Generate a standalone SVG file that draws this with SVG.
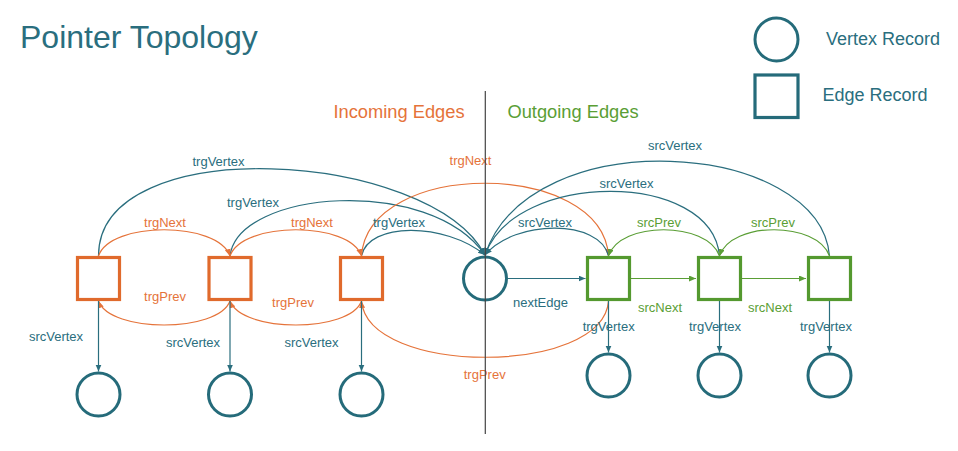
<svg xmlns="http://www.w3.org/2000/svg" width="958" height="451" viewBox="0 0 958 451">
  <style>
    text { font-family: "Liberation Sans", Arial, sans-serif; }
    .title { font-size: 32px; fill: #2a6e7e; }
    .legend { font-size: 18px; fill: #2a6e7e; }
    .head { font-size: 18.3px; text-anchor: middle; }
    .lbl { font-size: 13px; text-anchor: middle; }
    .t { fill: #2a6e7e; }
    .o { fill: #e5733a; }
    .g { fill: #5a9e35; }
    .vertex { fill: #ffffff; stroke: #256b7a; stroke-width: 3; }
    .edgeIn { fill: #ffffff; stroke: #e06a2c; stroke-width: 3.2; }
    .edgeOut { fill: #ffffff; stroke: #54992f; stroke-width: 3.2; }
    .edgeLegend { fill: #ffffff; stroke: #256b7a; stroke-width: 3.2; }
    .ct { fill: none; stroke: #2a6e7e; stroke-width: 1.2; marker-end: url(#arrT); }
    .co { fill: none; stroke: #e5733a; stroke-width: 1.2; marker-end: url(#arrO); }
    .cg { fill: none; stroke: #5a9e35; stroke-width: 1.2; marker-end: url(#arrG); }
    .sep { stroke: #444444; stroke-width: 1.2; }
  </style>
  <defs>
    <marker id="arrT" markerUnits="userSpaceOnUse" markerWidth="8" markerHeight="7" refX="7" refY="3" orient="auto">
      <path d="M0,0 L7,3 L0,6 z" fill="#2a6e7e"/>
    </marker>
    <marker id="arrO" markerUnits="userSpaceOnUse" markerWidth="8" markerHeight="7" refX="7" refY="3" orient="auto">
      <path d="M0,0 L7,3 L0,6 z" fill="#e5733a"/>
    </marker>
    <marker id="arrG" markerUnits="userSpaceOnUse" markerWidth="8" markerHeight="7" refX="7" refY="3" orient="auto">
      <path d="M0,0 L7,3 L0,6 z" fill="#5a9e35"/>
    </marker>
  </defs>

  <rect width="958" height="451" fill="#ffffff"/>

  <!-- title and legend -->
  <text class="title" x="20" y="48.3">Pointer Topology</text>
  <g id="legend-vertex">
    <circle class="vertex" cx="776.5" cy="39.5" r="21.5"/>
    <text class="legend" x="826" y="45">Vertex Record</text>
  </g>
  <g id="legend-edge">
    <rect class="edgeLegend" x="755" y="75" width="43" height="42.5"/>
    <text class="legend" x="822.5" y="100.7">Edge Record</text>
  </g>

  <text class="head o" x="399" y="118.3">Incoming Edges</text>
  <text class="head g" x="573" y="118.3">Outgoing Edges</text>

  <!-- connectors -->
  <g id="connectors">
    <!-- incoming edges: target vertex pointers -->
    <path class="ct" d="M98.5,256 C98.5,130 430,150 485,255"/>
    <path class="ct" d="M230,256 C238,190 430,175 485,255"/>
    <path class="ct" d="M361.5,256 C368,222 445,222 485,255"/>
    <!-- incoming edges: trgNext chain -->
    <path class="co" d="M98.5,256 C110,221 218,221 230,256"/>
    <path class="co" d="M230,256 C242,221 350,221 361.5,256"/>
    <path class="co" d="M361.5,256 C368,159 602,159 608.5,256"/>
    <!-- incoming edges: trgPrev chain -->
    <path class="co" d="M230,301 C218,333 110,333 98.5,301"/>
    <path class="co" d="M361.5,301 C350,333 242,333 230,301"/>
    <path class="co" d="M608.5,301 C603,376 368,376 361.5,301"/>
    <!-- outgoing edges: source vertex pointers -->
    <path class="ct" d="M608.5,256 C600,219 515,219 485,255"/>
    <path class="ct" d="M719.5,256 C712,170 515,170 485,255"/>
    <path class="ct" d="M829.5,256 C820,140 530,120 485,255"/>
    <!-- outgoing edges: srcPrev chain -->
    <path class="cg" d="M719.5,256 C707,221 620,221 608.5,256"/>
    <path class="cg" d="M829.5,256 C817,221 731,221 719.5,256"/>
    <!-- outgoing edges: srcNext chain -->
    <path class="cg" d="M631,278.5 L696,278.5"/>
    <path class="cg" d="M742,278.5 L806,278.5"/>
    <!-- vertex to first outgoing edge -->
    <path class="ct" d="M507,278.5 L585.5,278.5"/>
    <!-- source vertices of incoming edges -->
    <path class="ct" d="M98.5,301 L98.5,371.5"/>
    <path class="ct" d="M230,301 L230,371.5"/>
    <path class="ct" d="M361.5,301 L361.5,371.5"/>
    <!-- target vertices of outgoing edges -->
    <path class="ct" d="M608.5,301 L608.5,352.5"/>
    <path class="ct" d="M719.5,301 L719.5,352.5"/>
    <path class="ct" d="M829.5,301 L829.5,352.5"/>

    <!-- connector labels -->
    <text class="lbl t" x="218.5" y="166">trgVertex</text>
    <text class="lbl t" x="253" y="206.7">trgVertex</text>
    <text class="lbl t" x="399" y="227.3">trgVertex</text>
    <text class="lbl o" x="165" y="227.3">trgNext</text>
    <text class="lbl o" x="312" y="227.3">trgNext</text>
    <text class="lbl o" x="470.5" y="165">trgNext</text>
    <text class="lbl o" x="165" y="300.7">trgPrev</text>
    <text class="lbl o" x="293" y="307.3">trgPrev</text>
    <text class="lbl o" x="484.7" y="379.3">trgPrev</text>
    <text class="lbl t" x="675" y="150">srcVertex</text>
    <text class="lbl t" x="626.5" y="188.3">srcVertex</text>
    <text class="lbl t" x="545" y="226.7">srcVertex</text>
    <text class="lbl g" x="659" y="226.7">srcPrev</text>
    <text class="lbl g" x="773" y="226.7">srcPrev</text>
    <text class="lbl g" x="660" y="311.7">srcNext</text>
    <text class="lbl g" x="770" y="311.7">srcNext</text>
    <text class="lbl t" x="540.5" y="306.7">nextEdge</text>
    <text class="lbl t" x="56" y="340.7">srcVertex</text>
    <text class="lbl t" x="193" y="346.7">srcVertex</text>
    <text class="lbl t" x="311.5" y="346.7">srcVertex</text>
    <text class="lbl t" x="608.7" y="330.7">trgVertex</text>
    <text class="lbl t" x="715" y="330.7">trgVertex</text>
    <text class="lbl t" x="826" y="330.7">trgVertex</text>
  </g>

  <!-- incoming edge records -->
  <g id="in-edge-1"><rect class="edgeIn" x="77.5" y="257.5" width="42" height="42"/></g>
  <g id="in-edge-2"><rect class="edgeIn" x="209" y="257.5" width="42" height="42"/></g>
  <g id="in-edge-3"><rect class="edgeIn" x="340.5" y="257.5" width="42" height="42"/></g>

  <!-- central vertex -->
  <g id="vertex-center"><circle class="vertex" cx="485" cy="278.5" r="21.5"/></g>

  <!-- outgoing edge records -->
  <g id="out-edge-1"><rect class="edgeOut" x="587.5" y="257.5" width="42" height="42"/></g>
  <g id="out-edge-2"><rect class="edgeOut" x="698.5" y="257.5" width="42" height="42"/></g>
  <g id="out-edge-3"><rect class="edgeOut" x="808.5" y="257.5" width="42" height="42"/></g>

  <!-- source vertices of incoming edges -->
  <g id="src-vertex-1"><circle class="vertex" cx="98.5" cy="394.5" r="21.5"/></g>
  <g id="src-vertex-2"><circle class="vertex" cx="230" cy="394.5" r="21.5"/></g>
  <g id="src-vertex-3"><circle class="vertex" cx="361.5" cy="394.5" r="21.5"/></g>

  <!-- target vertices of outgoing edges -->
  <g id="trg-vertex-1"><circle class="vertex" cx="608.5" cy="375.5" r="21.5"/></g>
  <g id="trg-vertex-2"><circle class="vertex" cx="719.5" cy="375.5" r="21.5"/></g>
  <g id="trg-vertex-3"><circle class="vertex" cx="829.5" cy="375.5" r="21.5"/></g>

  <!-- divider between incoming and outgoing sides -->
  <line class="sep" x1="485.3" y1="91" x2="485.3" y2="434"/>
</svg>
